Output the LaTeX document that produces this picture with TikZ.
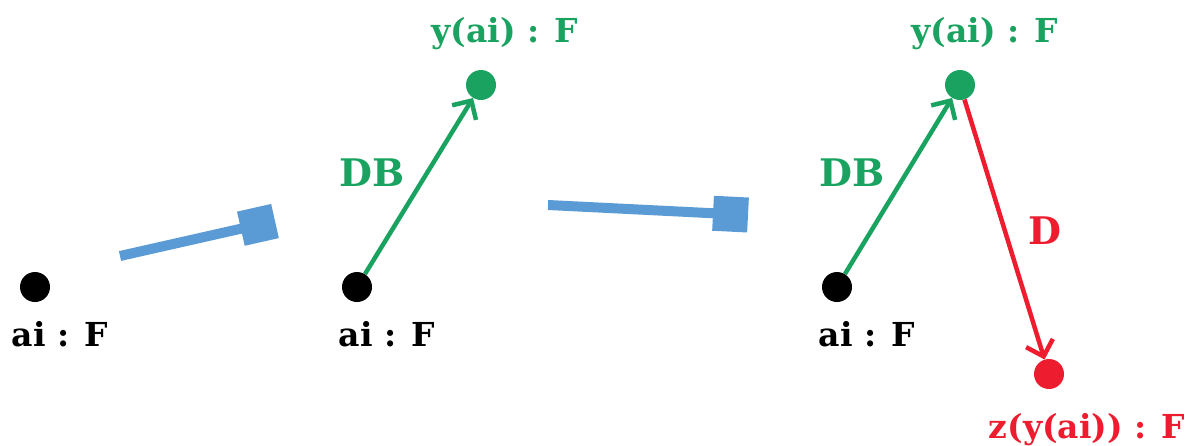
\documentclass[tikz,border=0pt]{standalone}
\usepackage{fontspec}
\setmainfont{DejaVu Serif}
\usepackage{xcolor}
\usepackage{tikz}
\usetikzlibrary{arrows.meta,positioning}

\definecolor{dbgreen}{RGB}{26,163,96}
\definecolor{dred}{RGB}{237,28,46}
\definecolor{stepblue}{RGB}{91,155,213}

\begin{document}
\begin{tikzpicture}[
  x=1pt,
  y=-1pt,
  point/.style={circle, fill=black, minimum size=30pt, inner sep=0pt},
  ypoint/.style={point, fill=dbgreen},
  zpoint/.style={point, fill=dred},
  label/.style={font=\fontsize{33}{40}\selectfont\bfseries, anchor=base, inner sep=0pt},
  maplabel/.style={font=\fontsize{38}{44}\selectfont\bfseries, anchor=base, inner sep=0pt},
  morph/.style={-{Straight Barb[length=14pt, width=28pt, line width=4.5pt]}, line width=4.5pt},
  stepto/.style={-{Square[length=35pt, width=35pt]}, line width=10pt, color=stepblue}
]
  \useasboundingbox (0,0) rectangle (1198,445);

  % first stage
  \node[point] (a1) at (35,287) {};
  \node[label] (la1) at (60,346) {ai : F};

  \coordinate (s1) at (120,256);
  \coordinate (e1) at (275,221);
  \draw[stepto] (s1) -- (e1);

  % second stage
  \node[point] (a2) at (357,287) {};
  \node[label] (la2) at (387,346) {ai : F};
  \node[ypoint] (y2) at (481,85) {};
  \node[label, dbgreen] (ly2) at (505,42) {y(ai) : F};
  \draw[morph, dbgreen] (a2) -- (y2);
  \node[maplabel, dbgreen] (db2) at (372,186) {DB};

  \coordinate (s2) at (548,205);
  \coordinate (e2) at (748,215);
  \draw[stepto] (s2) -- (e2);

  % third stage
  \node[point] (a3) at (837,287) {};
  \node[label] (la3) at (867,346) {ai : F};
  \node[ypoint] (y3) at (960,85) {};
  \node[label, dbgreen] (ly3) at (985,42) {y(ai) : F};
  \draw[morph, dbgreen] (a3) -- (y3);
  \node[maplabel, dbgreen] (db3) at (852,186) {DB};

  \node[zpoint] (z3) at (1049,374) {};
  \node[label, dred] (lz3) at (1087,438) {z(y(ai)) : F};
  \draw[morph, dred] (y3) -- (z3);
  \node[maplabel, dred] (d3) at (1045,244) {D};
\end{tikzpicture}
\end{document}
